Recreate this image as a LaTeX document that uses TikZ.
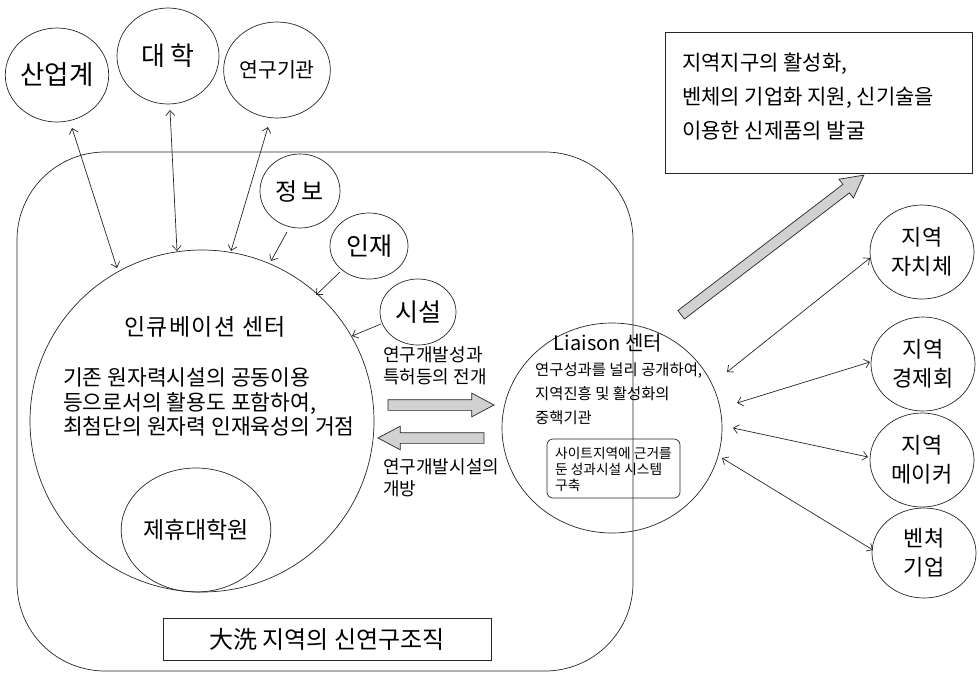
\documentclass[tikz,border=0pt]{standalone}
\usepackage{fontspec}
\setmainfont{Noto Sans CJK KR}
\usetikzlibrary{arrows.meta,shapes.geometric,shapes.arrows}
\newcommand\fsz[2]{\fontsize{#1}{#2}\selectfont}
\newcommand\shaft{\rule{0pt}{10pt}}
\tikzset{
  ln/.style={draw=black!85, line width=0.7pt},
  ov/.style={ln, ellipse, inner sep=0pt, align=center},
  bi/.style={ln, {Straight Barb[length=5pt,width=9pt]}-{Straight Barb[length=5pt,width=9pt]}},
  uni/.style={ln, -{Straight Barb[length=5pt,width=9pt]}},
  fat/.style={ln, fill=black!18, single arrow, inner sep=0pt, single arrow tip angle=56,
     single arrow head extend=6.5pt},
  txt/.style={inner sep=0pt, align=left, anchor=west},
}
\begin{document}
\begin{tikzpicture}[x=1pt,y=-1pt]
\useasboundingbox (0,0) rectangle (979,673);
% outer rounded frame
\draw[ln, rounded corners=88pt] (17,152) rectangle (633,671);
% top circles
\node[ov, minimum width=100, minimum height=94, font=\fsz{26.5}{30}] (sangup) at (57,75) {산업계};
\node[ov, minimum width=102, minimum height=96, font=\fsz{26}{30}] (daehak) at (168,56) {대\,학};
\node[ov, minimum width=96, minimum height=96, font=\fsz{20.5}{24}] (yeongu) at (277,70) {연구기관};
% big incubation ellipse
\node[ov, minimum width=344, minimum height=342] (incub) at (202,421) {};
\node[ov, minimum width=132, minimum height=124, font=\fsz{23}{27}] (jehyu) at (196,530) {제휴대학원};
\node[inner sep=0pt, font=\fsz{23}{27}\addfontfeatures{LetterSpace=6}] (incubt) at (205,327) {인큐베이션 센터};
\node[txt, font=\fsz{21.5}{24.5}] (incubp) at (63,402) {기존 원자력시설의 공동이용\\등으로서의 활용도 포함하여,\\최첨단의 원자력 인재육성의 거점};
% small circles
\node[ov, minimum width=80, minimum height=74, font=\fsz{24}{28}] (jeongbo) at (300,191) {정\,보};
\node[ov, minimum width=78, minimum height=66, font=\fsz{25}{28}] (injae) at (369,246) {인재};
\node[ov, minimum width=76, minimum height=66, font=\fsz{25}{28}] (siseol) at (418,312) {시설};
% arrow end coordinates
\coordinate (a1s) at (72,128);  \coordinate (a1e) at (117,268);
\coordinate (a2s) at (170,110); \coordinate (a2e) at (177,251);
\coordinate (a3s) at (268,127); \coordinate (a3e) at (231,251);
\coordinate (b1s) at (287,232); \coordinate (b1e) at (271,261);
\coordinate (b2s) at (340,272); \coordinate (b2e) at (316,295);
\coordinate (b3s) at (381,324); \coordinate (b3e) at (352,336);
\draw[bi] (a1s) -- (a1e);
\draw[bi] (a2s) -- (a2e);
\draw[bi] (a3s) -- (a3e);
\draw[uni] (b1s) -- (b1e);
\draw[uni] (b2s) -- (b2e);
\draw[uni] (b3s) -- (b3e);
% middle texts and fat arrows
\node[txt, font=\fsz{18}{22}] (devt) at (383,366) {연구개발성과\\특허등의 전개};
\node[fat, minimum height=106] (fatr) at (436,405) {\shaft};
\node[fat, minimum height=106, shape border rotate=180] (fatl) at (436,438) {\shaft};
\node[txt, font=\fsz{18}{22}] (opent) at (383,478) {연구개발시설의\\개방};
% liaison
\node[ov, minimum width=220, minimum height=210] (liaison) at (612,428) {};
\node[inner sep=0pt, font=\fsz{20}{24}] (liat) at (608,343) {Liaison 센터};
\node[txt, font=\fsz{15.4}{24}] (liap) at (535,394) {연구성과를 널리 공개하여,\\지역진흥 및 활성화의\\중핵기관};
\node[ln, rounded corners=6pt, minimum width=133, minimum height=59, inner sep=0pt] (liabox) at (613.5,468.5) {};
\node[txt, font=\fsz{13.7}{16}] (liaboxt) at (555,469) {사이트지역에 근거를\\둔 성과시설 시스템\\구축};
% top right box
\node[ln, minimum width=307, minimum height=141, inner sep=0pt] (goalbox) at (818.5,102.5) {};
\node[txt, font=\fsz{21}{34}] (goalt) at (682,97) {지역지구의 활성화,\\벤체의 기업화 지원, 신기술을\\이용한 신제품의 발굴};
\node[fat, minimum height=230, rotate=37.4] (fatd) at (768.5,248) {\shaft};
% right circles
\node[ov, minimum width=104, minimum height=94, font=\fsz{22}{29}] (r1) at (922,252) {지역\\자치체};
\node[ov, minimum width=104, minimum height=94, font=\fsz{22}{29}] (r2) at (923,364) {지역\\경제회};
\node[ov, minimum width=104, minimum height=94, font=\fsz{22}{29}] (r3) at (922,460) {지역\\메이커};
\node[ov, minimum width=104, minimum height=90, font=\fsz{22}{29}] (r4) at (924,553) {벤쳐\\기업};
\coordinate (c1s) at (870,258); \coordinate (c1e) at (727,372);
\coordinate (c2s) at (870,362); \coordinate (c2e) at (737,403);
\coordinate (c3s) at (868,457); \coordinate (c3e) at (733,428);
\coordinate (c4s) at (873,550); \coordinate (c4e) at (722,458);
\draw[bi] (c1s) -- (c1e);
\draw[bi] (c2s) -- (c2e);
\draw[bi] (c3s) -- (c3e);
\draw[bi] (c4s) -- (c4e);
% bottom label box
\node[ln, minimum width=328, minimum height=42, inner sep=0pt, font=\fsz{24}{28}] (orgbox) at (327,639) {大洗 지역의 신연구조직};
\end{tikzpicture}
\end{document}
